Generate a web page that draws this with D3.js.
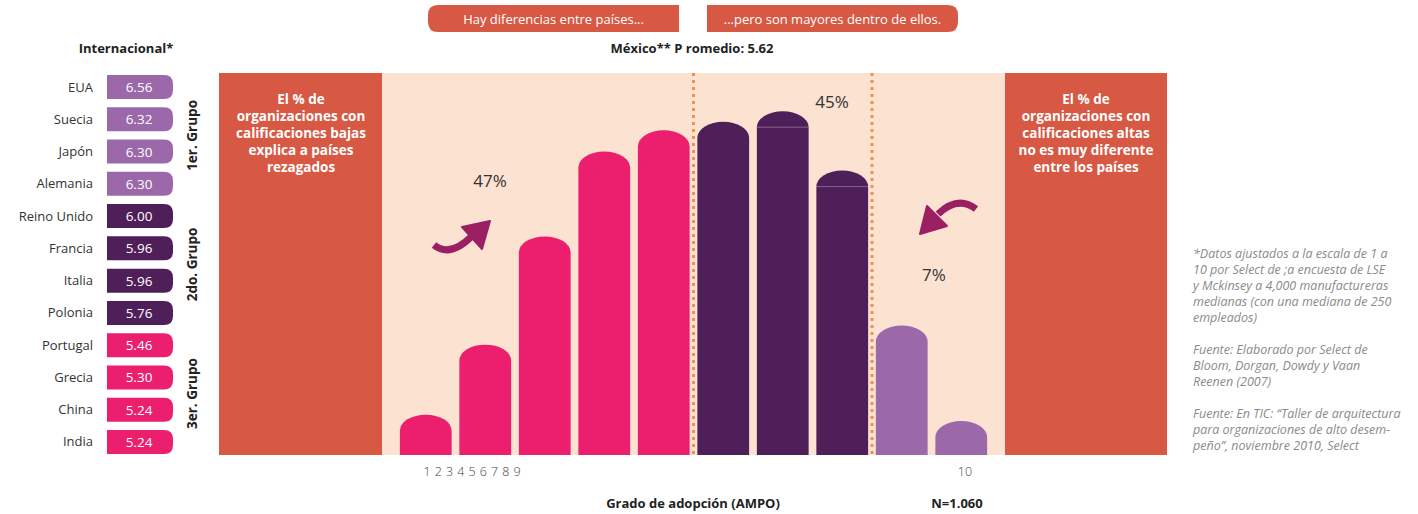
<!DOCTYPE html>
<html>
<head>
<meta charset="utf-8">
<script src="https://cdn.jsdelivr.net/npm/d3@7"></script>
<style>
  body { margin: 0; background: #fff; }
  svg { display: block; font-family: "Open Sans", "Noto Sans", sans-serif; }
</style>
</head>
<body>
<svg id="chart"></svg>
<script>
// country scores (left list)
const countries = ["EUA", "Suecia", "Japón", "Alemania", "Reino Unido", "Francia", "Italia", "Polonia", "Portugal", "Grecia", "China", "India"];
const scores = [6.56, 6.32, 6.30, 6.30, 6.00, 5.96, 5.96, 5.76, 5.46, 5.30, 5.24, 5.24];
const countryGroup = [0, 0, 0, 0, 1, 1, 1, 1, 2, 2, 2, 2];
const groupNames = ["1er. Grupo", "2do. Grupo", "3er. Grupo"];

// distribution of Mexican organisations by grade (% of N)
const grades = ["1", "2", "3", "4", "5", "6", "7", "8", "9", "10"];
const shares = [1.9, 5.2, 10.3, 14.3, 15.3, 15.7, 16.2, 13.4, 6.1, 1.6];
const shareGroup = [2, 2, 2, 2, 2, 1, 1, 1, 0, 0];
const bracketLabels = ["47%", "45%", "7%"];
const tickLabels = ["1", "2", "3", "4", "5", "6", "7", "8", "9", "10"];

const banners = ["Hay diferencias entre países...", "...pero son mayores dentro de ellos."];
const leftNote = ["El % de", "organizaciones con", "calificaciones bajas", "explica a países", "rezagados"];
const rightNote = ["El % de", "organizaciones con", "calificaciones altas", "no es muy diferente", "entre los países"];
const footnotes = [
  ["*Datos ajustados a la escala de 1 a", "10 por Select de ;a encuesta de LSE", "y Mckinsey a 4,000 manufactureras", "medianas (con una mediana de 250", "empleados)"],
  ["Fuente: Elaborado por Select de", "Bloom, Dorgan, Dowdy y Vaan", "Reenen (2007)"],
  ["Fuente: En TIC: “Taller de arquitectura", "para organizaciones de alto desem-", "peño”, noviembre 2010, Select"]
];

const width = 1418, height = 514;
const groupColors = ["#9b69aa", "#4f1f5a", "#ec1f6e"];
const orange = "#d75843";

const svg = d3.select("#chart").attr("width", width).attr("height", height);

// ---- top banners ----
const bannerX = d3.scaleBand().domain(banners).range([428, 958]).paddingInner(0.1);
banners.forEach((b, i) => {
  const x = bannerX(b), w = bannerX.bandwidth(), r = 10, y0 = 5, y1 = 32;
  const p = i === 0
    ? `M${x + w},${y0} L${x + r},${y0} Q${x},${y0} ${x},${y0 + r} L${x},${y1 - r} Q${x},${y1} ${x + r},${y1} L${x + w},${y1} Z`
    : `M${x},${y0} L${x + w - r},${y0} Q${x + w},${y0} ${x + w},${y0 + r} L${x + w},${y1 - r} Q${x + w},${y1} ${x + w - r},${y1} L${x},${y1} Z`;
  svg.append("path").attr("d", p).attr("fill", orange);
  svg.append("text").attr("x", x + w / 2).attr("y", 23.5).attr("text-anchor", "middle")
    .attr("fill", "#fff").attr("font-size", 13).text(b);
});

svg.append("text").attr("x", 692).attr("y", 53).attr("text-anchor", "middle")
  .attr("font-size", 13).attr("font-weight", "bold").attr("fill", "#222")
  .text("México** P romedio: 5.62");

svg.append("text").attr("x", 126).attr("y", 53).attr("text-anchor", "middle")
  .attr("font-size", 13).attr("font-weight", "bold").attr("fill", "#222")
  .text("Internacional*");

// ---- country list ----
const rowY = d3.scaleBand().domain(countries).range([75, 454]).paddingInner(0.256);
const pillX = 107, pillW = 66;
countries.forEach((c, i) => {
  const y = rowY(c), h = rowY.bandwidth(), r = 9;
  svg.append("path")
    .attr("d", `M${pillX},${y} L${pillX + pillW - r},${y} Q${pillX + pillW},${y} ${pillX + pillW},${y + r} L${pillX + pillW},${y + h - r} Q${pillX + pillW},${y + h} ${pillX + pillW - r},${y + h} L${pillX},${y + h} Z`)
    .attr("fill", groupColors[countryGroup[i]]);
  svg.append("text").attr("x", pillX + pillW / 2 - 1).attr("y", y + h / 2 + 5).attr("text-anchor", "middle")
    .attr("fill", "#fff").attr("font-size", 13.5).text(scores[i].toFixed(2));
  svg.append("text").attr("x", 93).attr("y", y + h / 2 + 4.5).attr("text-anchor", "end")
    .attr("fill", "#333").attr("font-size", 13).text(c);
});

groupNames.forEach((g, gi) => {
  const members = countries.filter((c, i) => countryGroup[i] === gi);
  const cy = (rowY(members[0]) + rowY(members[members.length - 1]) + rowY.bandwidth()) / 2;
  svg.append("text").attr("transform", `translate(197,${cy}) rotate(-90)`)
    .attr("text-anchor", "middle").attr("font-size", 13.5).attr("font-weight", "bold")
    .attr("fill", "#222").text(g);
});

// ---- chart area ----
const plotTop = 73, base = 455;
svg.append("rect").attr("x", 219).attr("y", plotTop).attr("width", 163).attr("height", base - plotTop).attr("fill", orange);
svg.append("rect").attr("x", 382).attr("y", plotTop).attr("width", 623).attr("height", base - plotTop).attr("fill", "#fbe2d1");
svg.append("rect").attr("x", 1005).attr("y", plotTop).attr("width", 162).attr("height", base - plotTop).attr("fill", orange);

const x = d3.scaleBand().domain(grades).range([396, 991]).paddingInner(0.13).paddingOuter(0.065);
const y = d3.scaleLinear().domain([0, 18]).range([base, plotTop]);
const bw = x.bandwidth(), capH = 16;

svg.selectAll(".bar").data(grades).enter().append("path")
  .attr("class", "bar")
  .attr("fill", (d, i) => groupColors[shareGroup[i]])
  .attr("d", (d, i) => {
    const x0 = x(d), yt = y(shares[i]) + capH;
    return `M${x0},${base} L${x0},${yt} A${bw / 2},${capH} 0 0 1 ${x0 + bw},${yt} L${x0 + bw},${base} Z`;
  });

// faint seam where the cap meets the column on the purple bars
svg.selectAll(".seam").data(grades.filter((d, i) => shareGroup[i] === 1 && i > 5)).enter().append("line")
  .attr("x1", d => x(d)).attr("x2", d => x(d) + bw)
  .attr("y1", d => y(shares[grades.indexOf(d)]) + capH).attr("y2", d => y(shares[grades.indexOf(d)]) + capH)
  .attr("stroke", "#fff").attr("stroke-opacity", 0.3).attr("stroke-width", 1);

// dotted dividers between groups
[["5", "6"], ["8", "9"]].forEach(([a, b]) => {
  const xd = (x(a) + bw + x(b)) / 2;
  svg.append("line").attr("x1", xd).attr("x2", xd).attr("y1", plotTop).attr("y2", base)
    .attr("stroke", "#f0914f").attr("stroke-width", 3).attr("stroke-dasharray", "3,4");
});

// percentage labels
const labelPos = [[490, 187], [832, 108], [934, 281]];
bracketLabels.forEach((t, i) => {
  svg.append("text").attr("x", labelPos[i][0]).attr("y", labelPos[i][1]).attr("text-anchor", "middle")
    .attr("font-size", 17).attr("fill", "#333").text(t);
});

// curved arrows
const arrowColor = "#9b1f63";
svg.append("path").attr("d", "M434,245 Q450,258 472,236").attr("fill", "none")
  .attr("stroke", arrowColor).attr("stroke-width", 7);
svg.append("path").attr("d", "M462,227 L490,221 L482,249 Z").attr("fill", arrowColor)
  .attr("stroke", arrowColor).attr("stroke-width", 2).attr("stroke-linejoin", "round");
svg.append("path").attr("d", "M976,209 Q958,195 938,214").attr("fill", "none")
  .attr("stroke", arrowColor).attr("stroke-width", 7);
svg.append("path").attr("d", "M927,206 L920,234 L947,226 Z").attr("fill", arrowColor)
  .attr("stroke", arrowColor).attr("stroke-width", 2).attr("stroke-linejoin", "round");

// panel notes
function noteBlock(lines, cx) {
  const t = svg.append("text").attr("text-anchor", "middle").attr("font-size", 13.5)
    .attr("font-weight", "bold").attr("fill", "#fff");
  lines.forEach((l, i) => t.append("tspan").attr("x", cx).attr("y", 104 + i * 17).text(l));
}
noteBlock(leftNote, 301);
noteBlock(rightNote, 1086);

// bottom labels
const tickX = d3.scalePoint().domain(tickLabels.slice(0, 9)).range([427, 517]);
tickLabels.forEach((t, i) => {
  svg.append("text").attr("x", i < 9 ? tickX(t) : 965).attr("y", 476).attr("text-anchor", "middle")
    .attr("font-size", 12.5).attr("font-weight", 300).attr("fill", "#444").text(t);
});
svg.append("text").attr("x", 693).attr("y", 508).attr("text-anchor", "middle")
  .attr("font-size", 13).attr("font-weight", "bold").attr("fill", "#222").text("Grado de adopción (AMPO)");
svg.append("text").attr("x", 957).attr("y", 508).attr("text-anchor", "middle")
  .attr("font-size", 13).attr("font-weight", "bold").attr("fill", "#222").text("N=1.060");

// footnotes
const fn = svg.append("text").attr("font-size", 12.5).attr("font-style", "italic").attr("fill", "#8a8a8a");
let fy = 258;
footnotes.forEach(block => {
  block.forEach(l => { fn.append("tspan").attr("x", 1193).attr("y", fy).text(l); fy += 16; });
  fy += 16;
});
</script>
</body>
</html>
